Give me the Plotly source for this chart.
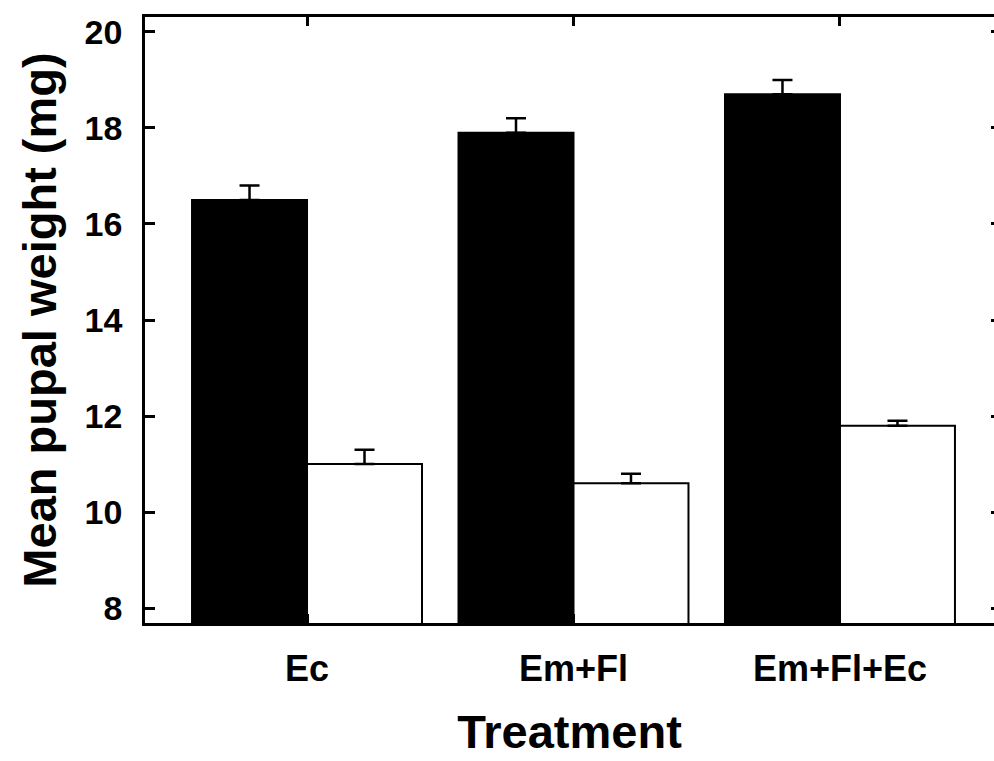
import plotly.graph_objects as go

categories = ["Ec", "Em+Fl", "Em+Fl+Ec"]
series_a = [16.5, 17.9, 18.7]      # black bars
series_a_err = [0.3, 0.3, 0.3]
series_b = [11.0, 10.6, 11.8]      # white bars
series_b_err = [0.3, 0.2, 0.1]
y_ticks = [8, 10, 12, 14, 16, 18, 20]

FONT = "Liberation Sans, Arial, sans-serif"

fig = go.Figure()
fig.add_trace(go.Bar(
    x=categories, y=series_a, base=0,
    marker=dict(color="black", line=dict(color="black", width=2)),
    error_y=dict(type="data", symmetric=False, array=series_a_err,
                 arrayminus=[0] * len(series_a), color="black", thickness=2.5, width=10),
    showlegend=False,
))
fig.add_trace(go.Bar(
    x=categories, y=series_b, base=0,
    marker=dict(color="white", line=dict(color="black", width=2)),
    error_y=dict(type="data", symmetric=False, array=series_b_err,
                 arrayminus=[0] * len(series_b), color="black", thickness=2.5, width=10),
    showlegend=False,
))
fig.add_trace(go.Scatter(x=[], y=[], yaxis="y2", showlegend=False))

fig.update_layout(
    width=994, height=761,
    margin=dict(l=145, r=0, t=17, b=138),
    paper_bgcolor="white", plot_bgcolor="white",
    barmode="group", bargap=0.137, bargroupgap=0,
    font=dict(family=FONT, color="black"),
    xaxis=dict(
        type="category", range=[-0.608, 2.578],
        showline=True, linecolor="black", linewidth=2.5, mirror="ticks",
        ticks="inside", ticklen=9, tickwidth=2.5, tickcolor="black",
        tickfont=dict(family=FONT, size=36, color="black", weight="bold"),
        ticklabelstandoff=12,
        showgrid=False, zeroline=False, automargin=False,
        title=dict(text="<b>Treatment</b>", font=dict(family=FONT, size=47, color="black"),
                   standoff=28),
    ),
    yaxis=dict(
        range=[7.69, 20.31],
        tickvals=y_ticks, ticktext=[str(v) for v in y_ticks],
        showline=True, linecolor="black", linewidth=2.5,
        ticks="inside", ticklen=10, tickwidth=2.5, tickcolor="black",
        tickfont=dict(family=FONT, size=34, color="black", weight="bold"),
        ticklabelstandoff=13,
        showgrid=False, zeroline=False, automargin=False,
        title=dict(text="<b>Mean pupal weight (mg)</b>", font=dict(family=FONT, size=47, color="black"),
                   standoff=14),
    ),
    yaxis2=dict(
        overlaying="y", side="right", matches="y", range=[7.69, 20.31],
        tickvals=y_ticks, showticklabels=False, showline=False,
        ticks="inside", ticklen=3, tickwidth=2.5, tickcolor="black",
        showgrid=False, zeroline=False, automargin=False,
    ),
)

fig.write_html(
    "out.html",
    config={"displayModeBar": False},
    post_script="document.body.style.margin='0';document.body.style.overflow='hidden';",
)
